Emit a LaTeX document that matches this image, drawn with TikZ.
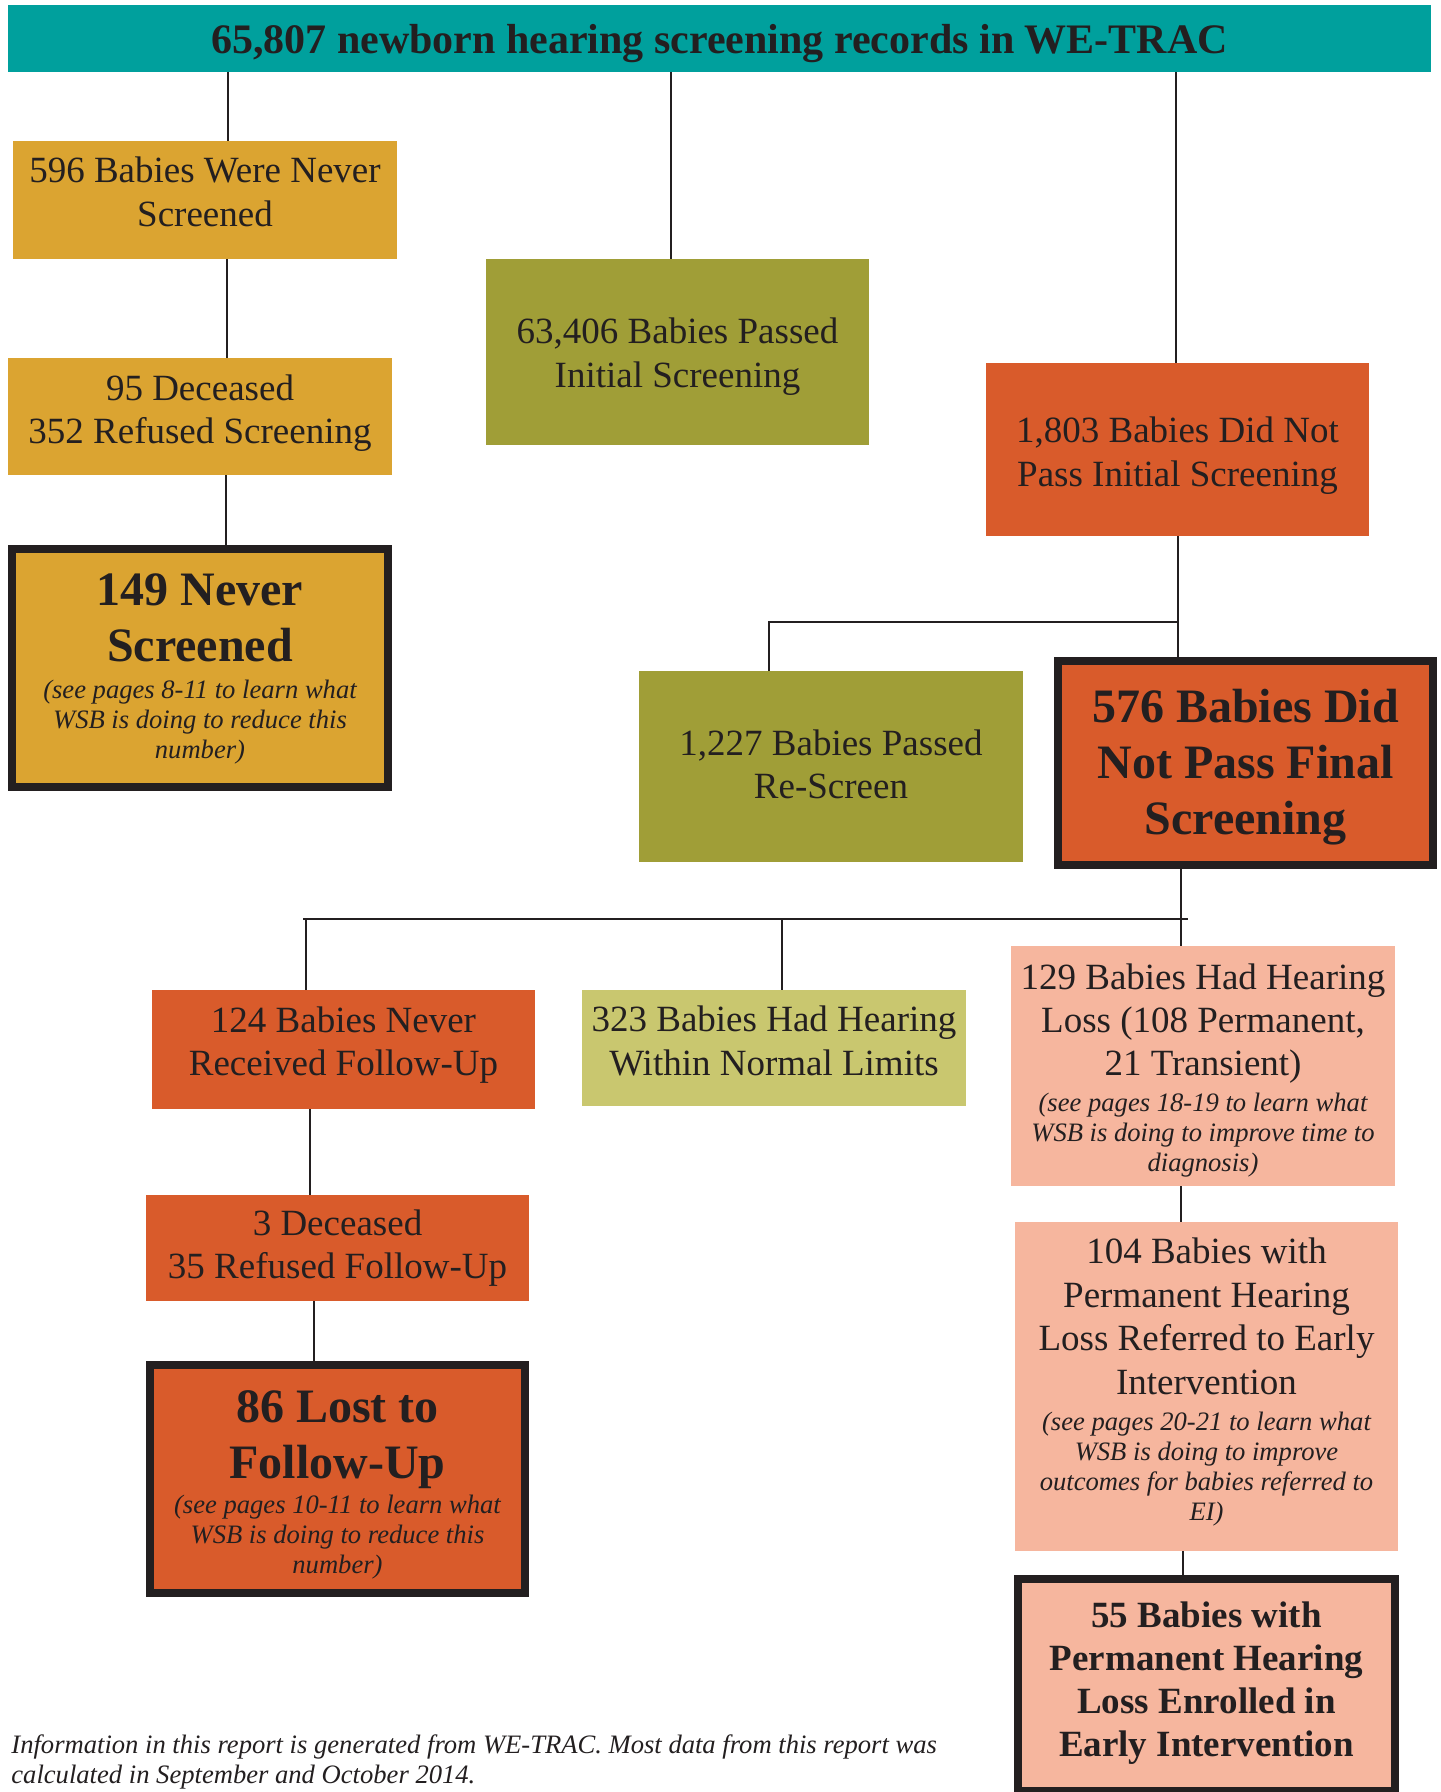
\documentclass[tikz,border=0pt]{standalone}
\usepackage{fontspec}
\setmainfont{Liberation Serif}
\definecolor{cTeal}{RGB}{0,160,157}
\definecolor{cMust}{RGB}{219,164,49}
\definecolor{cOlive}{RGB}{160,158,55}
\definecolor{cOrange}{RGB}{217,91,43}
\definecolor{cLime}{RGB}{201,199,111}
\definecolor{cSalmon}{RGB}{246,182,158}
\definecolor{cInk}{RGB}{35,31,32}
\newcommand\bodyf{\fontsize{18.5}{21.7}\selectfont}
\newcommand\notef{\fontsize{13.3}{15}\selectfont\itshape}
\newcommand\bigbf{\fontsize{24}{28}\selectfont\bfseries}
\newcommand\midbf{\fontsize{18.5}{21.5}\selectfont\bfseries}
\tikzset{
  boxshape/.style={rectangle, inner sep=0pt, outer sep=0pt},
  heavy/.style={boxshape, draw=cInk, line width=4pt},
  boxtext/.style={inner sep=0pt, outer sep=0pt, align=flush center, text=cInk},
  link/.style={draw=cInk, line width=1pt},
}
\begin{document}
\begin{tikzpicture}[x=0.5pt,y=-0.5pt]
\useasboundingbox (0,0) rectangle (1440,1792);
\fill[white] (0,0) rectangle (1440,1792);

% title
\node[boxshape, fill=cTeal, minimum width=711.5pt, minimum height=33.5pt,
  text height=20pt, text depth=4.5pt, text=cInk,
  font=\fontsize{21}{25}\selectfont\bfseries] (title) at (719.5,38.5)
  {65,807 newborn hearing screening records in WE-TRAC};

% ---- boxes
\node[boxshape, fill=cMust, minimum width=192pt, minimum height=59pt] (never596) at (205,200) {};
\node[boxtext, text width=190pt, font=\bodyf] (never596-t) at ([yshift=4pt]never596.center)
  {596 Babies Were Never\\Screened};

\node[boxshape, fill=cMust, minimum width=192pt, minimum height=58.5pt] (dec95) at (200,416.5) {};
\node[boxtext, text width=190pt, font=\bodyf] (dec95-t) at ([yshift=1.75pt]dec95.center)
  {95 Deceased\\352 Refused Screening};

\node[heavy, fill=cMust, minimum width=188pt, minimum height=119pt] (nev149) at (200,668) {};
\node[boxtext, text width=180pt] (nev149-t) at ([yshift=-0.5pt]nev149.center)
  {{\bigbf 149 Never\\Screened\par}\vskip3.5pt
   {\notef (see pages 8-11 to learn what\\WSB is doing to reduce this\\number)\par}};

\node[boxshape, fill=cOlive, minimum width=191.5pt, minimum height=93pt] (passed63) at (677.5,352) {};
\node[boxtext, text width=189pt, font=\bodyf] (passed63-t) at ([yshift=-2.25pt]passed63.center)
  {63,406 Babies Passed\\Initial Screening};

\node[boxshape, fill=cOrange, minimum width=191.5pt, minimum height=86.5pt] (notpass1803) at (1177.5,449.5) {};
\node[boxtext, text width=189pt, font=\bodyf] (notpass1803-t) at ([yshift=-3pt]notpass1803.center)
  {1,803 Babies Did Not\\Pass Initial Screening};

\node[boxshape, fill=cOlive, minimum width=192pt, minimum height=95.5pt] (passed1227) at (831,766.5) {};
\node[boxtext, text width=190pt, font=\bodyf] (passed1227-t) at ([yshift=1pt]passed1227.center)
  {1,227 Babies Passed\\Re-Screen};

\node[heavy, fill=cOrange, minimum width=187.5pt, minimum height=102pt] (final576) at (1245.5,763) {};
\node[boxtext, text width=180pt, font=\bigbf] (final576-t) at ([yshift=-2.25pt]final576.center)
  {576 Babies Did\\Not Pass Final\\Screening};

\node[boxshape, fill=cOrange, minimum width=191.5pt, minimum height=59.5pt] (never124) at (343.5,1049.5) {};
\node[boxtext, text width=189pt, font=\bodyf] (never124-t) at ([yshift=2.25pt]never124.center)
  {124 Babies Never\\Received Follow-Up};

\node[boxshape, fill=cLime, minimum width=192pt, minimum height=58pt] (normal323) at (774,1048) {};
\node[boxtext, text width=190pt, font=\bodyf] (normal323-t) at ([yshift=3.5pt]normal323.center)
  {323 Babies Had Hearing\\Within Normal Limits};

\node[boxshape, fill=cSalmon, minimum width=192pt, minimum height=120pt] (loss129) at (1203,1066) {};
\node[boxtext, text width=190pt] (loss129-t) at ([yshift=-2.25pt]loss129.center)
  {{\bodyf 129 Babies Had Hearing\\Loss (108 Permanent,\\21 Transient)\par}\vskip3pt
   {\notef (see pages 18-19 to learn what\\WSB is doing to improve time to\\diagnosis)\par}};

\node[boxshape, fill=cOrange, minimum width=191.5pt, minimum height=53pt] (dec3) at (337.5,1248) {};
\node[boxtext, text width=189pt, font=\bodyf] (dec3-t) at (dec3.center)
  {3 Deceased\\35 Refused Follow-Up};

\node[heavy, fill=cOrange, minimum width=187.5pt, minimum height=114pt] (lost86) at (337.5,1479) {};
\node[boxtext, text width=180pt] (lost86-t) at ([yshift=-3pt]lost86.center)
  {{\bigbf 86 Lost to\\Follow-Up\par}\vskip2.5pt
   {\notef (see pages 10-11 to learn what\\WSB is doing to reduce this\\number)\par}};

\node[boxshape, fill=cSalmon, minimum width=191.5pt, minimum height=164.5pt] (ref104) at (1206.5,1386.5) {};
\node[boxtext, text width=189pt] (ref104-t) at ([yshift=2.25pt]ref104.center)
  {{\bodyf 104 Babies with\\Permanent Hearing\\Loss Referred to Early\\Intervention\par}\vskip3pt
   {\notef (see pages 20-21 to learn what\\WSB is doing to improve\\outcomes for babies referred to\\EI)\par}};

\node[heavy, fill=cSalmon, minimum width=188.5pt, minimum height=106pt] (enr55) at (1206.5,1685) {};
\node[boxtext, text width=180pt, font=\midbf] (enr55-t) at ([yshift=1pt]enr55.center)
  {55 Babies with\\Permanent Hearing\\Loss Enrolled in\\Early Intervention};

% footer
\node[anchor=north west, inner sep=0pt, text=cInk, align=left,
  font=\fontsize{13.3}{15}\selectfont\itshape] (foot) at (11,1734)
  {Information in this report is generated from WE-TRAC. Most data from this report was\\
   calculated in September and October 2014.};

% connectors
\draw[link] (title.south -| 228,0) -- (never596.north -| 228,0);
\draw[link] (title.south -| 671,0) -- (passed63.north -| 671,0);
\draw[link] (title.south -| 1176,0) -- (notpass1803.north -| 1176,0);
\draw[link] (never596.south -| 227,0) -- (dec95.north -| 227,0);
\draw[link] (dec95.south -| 226,0) -- (nev149.north -| 226,0);
\draw[link] (notpass1803.south -| 1178,0) -- (final576.north -| 1178,0);
\coordinate (j1) at (1178,622);
\draw[link] (passed1227.north -| 769,0) |- (j1);
\draw[link] (final576.south -| 1181,0) -- (loss129.north -| 1181,0);
\coordinate (j2a) at (303,919);
\coordinate (j2b) at (1188,919);
\draw[link] (j2a) -- (j2b);
\draw[link] (j2a -| 306,0) -- (never124.north -| 306,0);
\draw[link] (j2a -| 782,0) -- (normal323.north -| 782,0);
\draw[link] (never124.south -| 310,0) -- (dec3.north -| 310,0);
\draw[link] (dec3.south -| 314,0) -- (lost86.north -| 314,0);
\draw[link] (loss129.south -| 1181,0) -- (ref104.north -| 1181,0);
\draw[link] (ref104.south -| 1183,0) -- (enr55.north -| 1183,0);
\end{tikzpicture}
\end{document}
